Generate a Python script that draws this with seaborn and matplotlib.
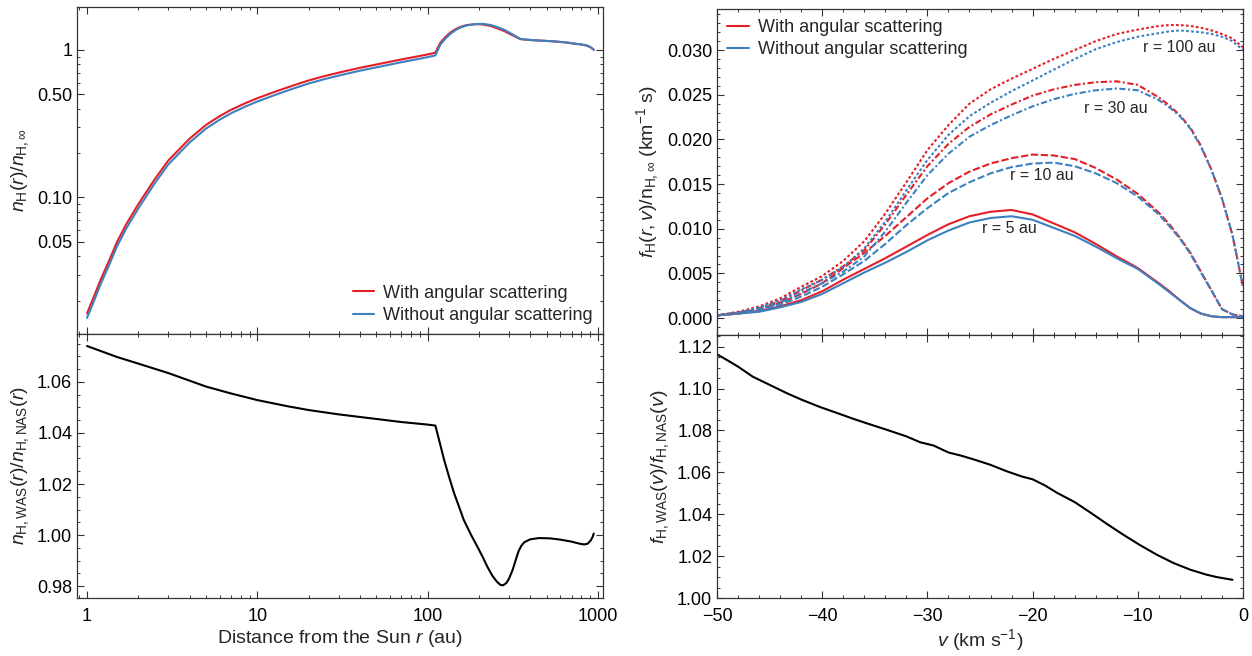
import matplotlib
matplotlib.use("Agg")
import matplotlib.pyplot as plt
import matplotlib.ticker as mticker
import seaborn as sns
import numpy as np

# ---- left column: density vs distance ----
r_top = [1, 1.1, 1.2, 1.35, 1.5, 1.7, 2, 2.5, 3, 4, 5, 6, 7, 8.5, 10, 13, 16, 20, 25, 30,
         40, 50, 70, 100, 111, 115, 119, 127, 136, 146, 156, 170, 191, 210, 234, 260, 281,
         300, 321, 340, 351, 380, 421, 551, 650, 722, 800, 864, 910, 945]
n_was = [0.0164, 0.0215, 0.0276, 0.0375, 0.050, 0.066, 0.090, 0.133, 0.178, 0.250, 0.310,
         0.355, 0.392, 0.435, 0.470, 0.525, 0.570, 0.620, 0.665, 0.700, 0.755, 0.795, 0.860,
         0.930, 0.955, 1.04, 1.12, 1.22, 1.31, 1.38, 1.43, 1.47, 1.49, 1.485, 1.45, 1.39,
         1.34, 1.29, 1.24, 1.20, 1.18, 1.17, 1.16, 1.14, 1.12, 1.10, 1.085, 1.065, 1.035, 1.0]
n_nas = [0.0153, 0.0200, 0.0258, 0.0350, 0.0467, 0.0617, 0.0843, 0.1249, 0.1674, 0.2356,
         0.2930, 0.3360, 0.3714, 0.4127, 0.4463, 0.4993, 0.5428, 0.5910, 0.6345, 0.6684,
         0.7216, 0.7604, 0.8235, 0.8914, 0.9157, 1.0039, 1.0863, 1.1902, 1.2849, 1.3596,
         1.4165, 1.4641, 1.4945, 1.4985, 1.4721, 1.4169, 1.3665, 1.3123, 1.2563, 1.2085,
         1.1859, 1.1723, 1.1612, 1.1411, 1.1222, 1.1033, 1.0888, 1.0687, 1.0376, 1.0]

r_ratio = [1, 1.5, 2, 3, 5, 7, 10, 15, 20, 30, 50, 70, 100, 111, 118, 125, 134, 143, 153,
           163, 180, 196, 210, 224, 240, 255, 268, 278, 290, 300, 315, 330, 342, 355, 370,
           400, 450, 520, 600, 700, 780, 830, 870, 905, 930, 945]
n_ratio = [1.0741, 1.0698, 1.0672, 1.0635, 1.0582, 1.0555, 1.0529, 1.0505, 1.0490, 1.0473,
           1.0455, 1.0443, 1.0433, 1.0429, 1.0360, 1.0294, 1.0225, 1.0164, 1.0110, 1.0059,
           1.0000, 0.9954, 0.9915, 0.9876, 0.9840, 0.9817, 0.9804, 0.9803, 0.9812, 0.9828,
           0.9862, 0.9905, 0.9937, 0.9958, 0.9972, 0.9983, 0.9988, 0.9987, 0.9982, 0.9974,
           0.9966, 0.9963, 0.9966, 0.9978, 0.9992, 1.0006]

# ---- right column: distribution vs velocity ----
v = [-50, -48, -46, -44, -42, -40, -38, -36, -34, -32, -30, -28, -26, -24, -22, -20, -18,
     -16, -14, -12, -10, -8, -7, -6, -5, -4, -3, -2, -1, 0]
f5_was = [0.0003, 0.0005, 0.0008, 0.0013, 0.0020, 0.0030, 0.0043, 0.0055, 0.0067, 0.0080,
          0.0093, 0.0105, 0.0114, 0.0119, 0.0121, 0.0116, 0.0106, 0.0096, 0.0083, 0.0069,
          0.0056, 0.0039, 0.0030, 0.0020, 0.0011, 0.0005, 0.0002, 0.0001, 0.0001, 0.0001]
f5_nas = [0.0003, 0.0005, 0.0007, 0.0012, 0.0018, 0.0027, 0.0039, 0.0051, 0.0062, 0.0074,
          0.0087, 0.0098, 0.0107, 0.0112, 0.0114, 0.0110, 0.0101, 0.0092, 0.0080, 0.0067,
          0.0055, 0.0038, 0.0029, 0.0020, 0.0011, 0.0005, 0.0002, 0.0001, 0.0001, 0.0001]
f10_was = [0.0003, 0.0006, 0.0010, 0.0017, 0.0027, 0.0039, 0.0056, 0.0073, 0.0092, 0.0113,
           0.0134, 0.0151, 0.0164, 0.0173, 0.0179, 0.0183, 0.0182, 0.0178, 0.0168, 0.0155,
           0.0139, 0.0118, 0.0105, 0.0090, 0.0073, 0.0052, 0.0031, 0.0010, 0.0004, 0.0002]
f10_nas = [0.0003, 0.0005, 0.0009, 0.0015, 0.0024, 0.0035, 0.0049, 0.0064, 0.0083, 0.0104,
           0.0123, 0.0140, 0.0152, 0.0162, 0.0169, 0.0173, 0.0174, 0.0170, 0.0162, 0.0151,
           0.0136, 0.0116, 0.0103, 0.0089, 0.0072, 0.0051, 0.0031, 0.0010, 0.0004, 0.0002]
f30_was = [0.0003, 0.0006, 0.0011, 0.0019, 0.0031, 0.0043, 0.0058, 0.0076, 0.0105, 0.0138,
           0.0170, 0.0195, 0.0214, 0.0228, 0.0239, 0.0249, 0.0256, 0.0261, 0.0264, 0.0265,
           0.0261, 0.0247, 0.0238, 0.0227, 0.0213, 0.0193, 0.0166, 0.0134, 0.0093, 0.0035]
f30_nas = [0.0003, 0.0006, 0.0010, 0.0017, 0.0028, 0.0039, 0.0052, 0.0069, 0.0097, 0.0129,
           0.0160, 0.0184, 0.0203, 0.0216, 0.0227, 0.0237, 0.0245, 0.0251, 0.0255, 0.0257,
           0.0255, 0.0244, 0.0236, 0.0226, 0.0212, 0.0192, 0.0166, 0.0134, 0.0093, 0.0035]
f100_was = [0.0003, 0.0007, 0.0013, 0.0022, 0.0035, 0.0047, 0.0064, 0.0086, 0.0117, 0.0152,
            0.0188, 0.0216, 0.0240, 0.0256, 0.0268, 0.0279, 0.0290, 0.0300, 0.0310, 0.0318,
            0.0323, 0.0327, 0.0328, 0.0328, 0.0327, 0.0325, 0.0322, 0.0318, 0.0313, 0.0303]
f100_nas = [0.0003, 0.0006, 0.0012, 0.0020, 0.0032, 0.0043, 0.0057, 0.0078, 0.0108, 0.0143,
            0.0177, 0.0205, 0.0226, 0.0241, 0.0254, 0.0266, 0.0278, 0.0290, 0.0301, 0.0309,
            0.0315, 0.0319, 0.0321, 0.0322, 0.0321, 0.0320, 0.0318, 0.0315, 0.0310, 0.0300]

v_ratio = [-50, -49, -48, -46.6, -45, -43.4, -42, -40.2, -38.5, -37, -35.5, -33.9, -32,
           -30.7, -29.4, -28, -26.8, -25.6, -24, -22.5, -21, -20, -18.8, -17.7, -16, -14.5,
           -13, -11.4, -9.8, -8.2, -6.6, -5, -3.5, -2.5, -1]
f_ratio = [1.1164, 1.1135, 1.1105, 1.1057, 1.1018, 1.0979, 1.0948, 1.0912, 1.0882, 1.0855,
           1.0830, 1.0804, 1.0772, 1.0744, 1.0728, 1.0695, 1.0680, 1.0662, 1.0636, 1.0606,
           1.0580, 1.0567, 1.0537, 1.0503, 1.0458, 1.0408, 1.0356, 1.0303, 1.0253, 1.0207,
           1.0167, 1.0135, 1.0112, 1.0100, 1.0087]

labels_r = ["r = 5 au", "r = 10 au", "r = 30 au", "r = 100 au"]
label_pos = [(-22.2, 0.0100), (-19.1, 0.0160), (-12.1, 0.0235), (-6.1, 0.0303)]

RED = "#e41f26"
BLUE = "#3d80c0"

sns.set_theme(style="ticks")
plt.rcParams["font.family"] = ["Liberation Sans", "DejaVu Sans"]
plt.rcParams["mathtext.fontset"] = "custom"
plt.rcParams["mathtext.rm"] = "Liberation Sans"
plt.rcParams["mathtext.it"] = "Liberation Sans:italic"
plt.rcParams["mathtext.bf"] = "Liberation Sans:bold"
plt.rcParams["axes.edgecolor"] = "#333333"
plt.rcParams["axes.linewidth"] = 0.9

fig = plt.figure(figsize=(12.52, 6.56), dpi=100)
ax_lt = fig.add_axes([0.0615, 0.4909, 0.4201, 0.4985])
ax_lb = fig.add_axes([0.0615, 0.0884, 0.4201, 0.4024])
ax_rt = fig.add_axes([0.5727, 0.4893, 0.4201, 0.4970])
ax_rb = fig.add_axes([0.5727, 0.0884, 0.4201, 0.4009])

LW = 1.5
FS_TICK = 13
FS_LAB = 14
FS_LEG = 13


def style_ticks(ax):
    ax.tick_params(which="both", direction="in", top=True, right=True,
                   labelsize=FS_TICK, colors="#333333", labelcolor="black")
    ax.tick_params(which="major", length=5, width=0.8)
    ax.tick_params(which="minor", length=2.5, width=0.7)


# left top
sns.lineplot(x=r_top, y=n_was, ax=ax_lt, color=RED, lw=LW, label="With angular scattering")
sns.lineplot(x=r_top, y=n_nas, ax=ax_lt, color=BLUE, lw=LW, label="Without angular scattering")
ax_lt.set_xscale("log")
ax_lt.set_yscale("log")
ax_lt.set_xlim(0.873, 1070)
ax_lt.set_ylim(0.0119, 1.95)
ax_lt.set_yticks([0.05, 0.1, 0.5, 1])
ax_lt.set_yticklabels(["0.05", "0.10", "0.50", "1"])
ax_lt.yaxis.set_minor_locator(mticker.LogLocator(subs=np.arange(2, 10)))
ax_lt.yaxis.set_minor_formatter(mticker.NullFormatter())
ax_lt.set_xticks([1, 10, 100, 1000])
ax_lt.xaxis.set_minor_locator(mticker.LogLocator(subs=np.arange(2, 10)))
ax_lt.tick_params(labelbottom=False)
ax_lt.set_xlabel("")
ax_lt.set_ylabel(r"$n_\mathrm{H}(r)/n_{\mathrm{H},\infty}$", fontsize=FS_LAB)
ax_lt.legend(loc="lower right", frameon=False, fontsize=FS_LEG, handlelength=1.2,
             handletextpad=0.5, labelspacing=0.3, borderaxespad=0.15)
style_ticks(ax_lt)

# left bottom
sns.lineplot(x=r_ratio, y=n_ratio, ax=ax_lb, color="black", lw=LW)
ax_lb.set_xscale("log")
ax_lb.set_xlim(0.873, 1070)
ax_lb.set_ylim(0.9753, 1.0788)
ax_lb.set_xticks([1, 10, 100, 1000])
ax_lb.set_xticklabels(["1", "10", "100", "1000"])
ax_lb.xaxis.set_minor_locator(mticker.LogLocator(subs=np.arange(2, 10)))
ax_lb.xaxis.set_minor_formatter(mticker.NullFormatter())
ax_lb.yaxis.set_major_locator(mticker.MultipleLocator(0.02))
ax_lb.yaxis.set_minor_locator(mticker.MultipleLocator(0.005))
ax_lb.yaxis.set_major_formatter(mticker.FormatStrFormatter("%.2f"))
ax_lb.set_xlabel("Distance from the Sun $r$ (au)", fontsize=FS_LAB, labelpad=2)
ax_lb.set_ylabel(r"$n_{\mathrm{H,WAS}}(r)/n_{\mathrm{H,NAS}}(r)$", fontsize=FS_LAB)
style_ticks(ax_lb)
ax_lb.tick_params(axis="x", which="major", pad=7)

# right top
styles = ["-", (0, (3.5, 1.3)), (0, (3.0, 1.2, 1.0, 1.2)), (0, (1.3, 1.1))]
was_sets = [f5_was, f10_was, f30_was, f100_was]
nas_sets = [f5_nas, f10_nas, f30_nas, f100_nas]
for i, (fw, fn, ls) in enumerate(zip(was_sets, nas_sets, styles)):
    sns.lineplot(x=v, y=fw, ax=ax_rt, color=RED, lw=LW, linestyle=ls,
                 label="With angular scattering" if i == 0 else None)
    sns.lineplot(x=v, y=fn, ax=ax_rt, color=BLUE, lw=LW, linestyle=ls,
                 label="Without angular scattering" if i == 0 else None)
for txt, (xp, yp) in zip(labels_r, label_pos):
    ax_rt.text(xp, yp, txt, fontsize=11.5, ha="center", va="center")
ax_rt.set_xlim(-50, 0)
ax_rt.set_ylim(-0.0019, 0.0346)
ax_rt.xaxis.set_major_locator(mticker.MultipleLocator(10))
ax_rt.xaxis.set_minor_locator(mticker.MultipleLocator(2))
ax_rt.yaxis.set_major_locator(mticker.MultipleLocator(0.005))
ax_rt.yaxis.set_minor_locator(mticker.MultipleLocator(0.001))
ax_rt.yaxis.set_major_formatter(mticker.FormatStrFormatter("%.3f"))
ax_rt.tick_params(labelbottom=False)
ax_rt.set_xlabel("")
ax_rt.set_ylabel(r"$f_\mathrm{H}(r,v)/\mathrm{n}_{\mathrm{H},\infty}$ (km$^{-1}$ s)", fontsize=FS_LAB)
ax_rt.legend(loc="upper left", frameon=False, fontsize=FS_LEG, handlelength=1.2,
             handletextpad=0.5, labelspacing=0.3, borderaxespad=0.15)
style_ticks(ax_rt)

# right bottom
sns.lineplot(x=v_ratio, y=f_ratio, ax=ax_rb, color="black", lw=LW)
ax_rb.set_xlim(-50, 0)
ax_rb.set_ylim(1.0, 1.1256)
ax_rb.xaxis.set_major_locator(mticker.MultipleLocator(10))
ax_rb.xaxis.set_minor_locator(mticker.MultipleLocator(2))
ax_rb.yaxis.set_major_locator(mticker.MultipleLocator(0.02))
ax_rb.yaxis.set_minor_locator(mticker.MultipleLocator(0.005))
ax_rb.yaxis.set_major_formatter(mticker.FormatStrFormatter("%.2f"))
ax_rb.set_xlabel("$v$ (km s$^{-1}$)", fontsize=FS_LAB, labelpad=2)
ax_rb.set_ylabel(r"$f_{\mathrm{H,WAS}}(v)/f_{\mathrm{H,NAS}}(v)$", fontsize=FS_LAB)
style_ticks(ax_rb)
ax_rb.tick_params(axis="x", which="major", pad=7)

fig.savefig("out.png", dpi=100)
